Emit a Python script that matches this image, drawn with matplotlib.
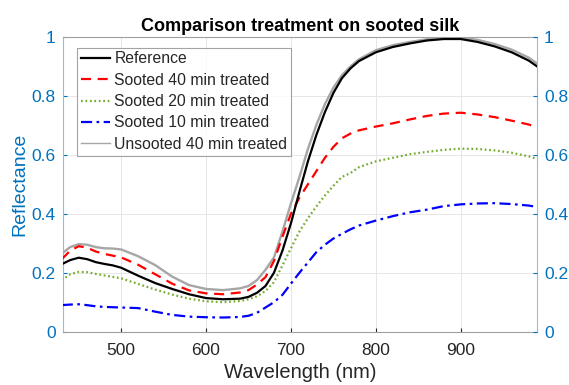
import matplotlib
matplotlib.use("Agg")
import matplotlib.pyplot as plt
from matplotlib.ticker import FuncFormatter

plt.rcParams['font.family'] = ['Liberation Sans', 'DejaVu Sans']

wavelength = [430, 440, 450, 460, 470, 480, 490, 500, 520, 540, 560, 580, 600, 620, 640, 650,
              660, 670, 680, 690, 700, 710, 720, 730, 740, 750, 760, 770, 780, 800, 820, 840,
              860, 880, 900, 920, 940, 960, 980, 990]

reference = [0.229, 0.243, 0.251, 0.246, 0.236, 0.230, 0.225, 0.217, 0.190, 0.165, 0.145, 0.127,
             0.114, 0.110, 0.112, 0.118, 0.132, 0.155, 0.200, 0.275, 0.368, 0.475, 0.578, 0.668,
             0.745, 0.810, 0.860, 0.893, 0.918, 0.948, 0.966, 0.978, 0.988, 0.993, 0.993, 0.983,
             0.968, 0.948, 0.920, 0.900]

sooted40 = [0.246, 0.275, 0.290, 0.285, 0.272, 0.264, 0.258, 0.252, 0.227, 0.195, 0.163, 0.140,
            0.130, 0.127, 0.133, 0.141, 0.160, 0.185, 0.240, 0.322, 0.400, 0.455, 0.500, 0.545,
            0.590, 0.627, 0.656, 0.672, 0.683, 0.696, 0.707, 0.720, 0.732, 0.740, 0.743, 0.737,
            0.728, 0.716, 0.703, 0.694]

sooted20 = [0.175, 0.195, 0.203, 0.202, 0.196, 0.191, 0.186, 0.181, 0.162, 0.143, 0.126, 0.112,
            0.103, 0.100, 0.104, 0.110, 0.120, 0.138, 0.168, 0.225, 0.283, 0.340, 0.385, 0.425,
            0.462, 0.495, 0.525, 0.538, 0.558, 0.578, 0.590, 0.602, 0.610, 0.617, 0.621, 0.620,
            0.615, 0.607, 0.595, 0.586]

sooted10 = [0.090, 0.092, 0.093, 0.090, 0.086, 0.084, 0.083, 0.082, 0.080, 0.068, 0.057, 0.051,
            0.049, 0.048, 0.050, 0.054, 0.064, 0.082, 0.100, 0.125, 0.163, 0.200, 0.235, 0.270,
            0.295, 0.316, 0.332, 0.347, 0.360, 0.377, 0.392, 0.405, 0.414, 0.426, 0.432, 0.435,
            0.436, 0.433, 0.428, 0.423]

unsooted40 = [0.265, 0.287, 0.297, 0.295, 0.287, 0.283, 0.282, 0.279, 0.256, 0.226, 0.187, 0.158,
              0.145, 0.141, 0.147, 0.155, 0.175, 0.210, 0.252, 0.340, 0.435, 0.525, 0.620, 0.702,
              0.772, 0.828, 0.870, 0.900, 0.924, 0.955, 0.972, 0.983, 0.992, 0.998, 0.999, 0.990,
              0.976, 0.957, 0.930, 0.910]

labels = ["Reference", "Sooted 40 min treated", "Sooted 20 min treated",
          "Sooted 10 min treated", "Unsooted 40 min treated"]
x_ticks = [500, 600, 700, 800, 900]
y_ticks = [0, 0.2, 0.4, 0.6, 0.8, 1.0]

blue_axis = '#0072BD'
dark = '#262626'

fig = plt.figure(figsize=(5.69, 3.85), dpi=100)
ax = fig.add_axes([0.110, 0.1385, 0.834, 0.7655])

l1, = ax.plot(wavelength, reference, color='black', lw=1.6, label=labels[0], zorder=5)
l2, = ax.plot(wavelength, sooted40, color='#FF0000', lw=1.6, ls=(0, (4.5, 3)), label=labels[1], zorder=4)
l3, = ax.plot(wavelength, sooted20, color='#77AC30', lw=1.6, ls=(0, (0.8, 1.2)), label=labels[2], zorder=4)
l4, = ax.plot(wavelength, sooted10, color='#0000FF', lw=1.6, ls=(0, (5, 2, 1.2, 2)), label=labels[3], zorder=4)
l5, = ax.plot(wavelength, unsooted40, color='#A6A6A6', lw=1.7, label=labels[4], zorder=3)

ax.set_xlim(431, 990)
ax.set_ylim(0, 1)
ax.set_xticks(x_ticks)
ax.set_yticks(y_ticks)
fmt = FuncFormatter(lambda v, p: ('%g' % v))
ax.yaxis.set_major_formatter(fmt)
ax.grid(True, color='#E6E6E6', lw=0.7, zorder=0)
ax.set_axisbelow(True)

ax.tick_params(axis='x', direction='in', length=3, labelsize=12.5, colors=dark, pad=8)
ax.tick_params(axis='y', direction='in', length=3, labelsize=12.5, colors=blue_axis, pad=5)
for s in ['left', 'right']:
    ax.spines[s].set_color('#8CC0E6')
for s in ['top', 'bottom']:
    ax.spines[s].set_color('#A0A0A0')
for s in ax.spines.values():
    s.set_linewidth(0.8)

ax2 = ax.twinx()
ax2.set_ylim(0, 1)
ax2.set_yticks(y_ticks)
ax2.yaxis.set_major_formatter(fmt)
ax2.tick_params(axis='y', direction='in', length=3, labelsize=12.5, colors=blue_axis, pad=5)
for s in ax2.spines.values():
    s.set_visible(False)

ax.set_xlabel("Wavelength (nm)", fontsize=14.5, color=dark, labelpad=4)
ax.set_ylabel("Reflectance", fontsize=14, color=blue_axis, labelpad=2)
ax.set_title("Comparison treatment on sooted silk", fontsize=13, fontweight='bold',
             color='black', pad=4)

leg = ax.legend(handles=[l1, l2, l3, l4, l5], loc='upper left', bbox_to_anchor=(0.0295, 0.964),
                fontsize=11.3, frameon=True, fancybox=False, edgecolor='#8C8C8C',
                handlelength=1.9, handletextpad=0.25, borderpad=0.25, labelspacing=0.4,
                borderaxespad=0)
leg.get_frame().set_linewidth(0.8)
leg.get_lines()[4].set_linewidth(1.0)
for t in leg.get_texts():
    t.set_color(dark)

fig.savefig("out.png", dpi=100)
